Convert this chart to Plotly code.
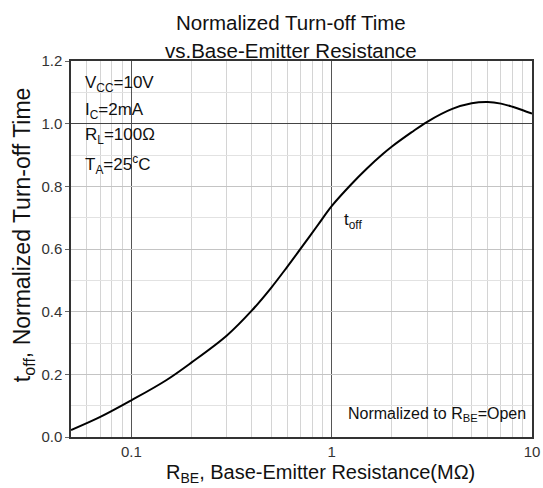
import plotly.graph_objects as go
import math

# Data
r_be = [0.05, 0.07, 0.1, 0.15, 0.2, 0.3, 0.4, 0.5, 0.6, 0.7, 0.85, 1.0,
        1.25, 1.5, 1.8, 2.0, 2.5, 3.0, 4.0, 5.0, 6.0, 7.0, 8.0, 9.0, 10.0]
t_off = [0.022, 0.064, 0.117, 0.182, 0.238, 0.324, 0.404, 0.477, 0.543, 0.601, 0.675, 0.737,
         0.806, 0.857, 0.903, 0.927, 0.972, 1.006, 1.047, 1.065, 1.069, 1.064, 1.054, 1.043, 1.032]

x_major = [0.1, 1, 10]
x_major_labels = ["0.1", "1", "10"]
x_minor = [0.06, 0.07, 0.08, 0.09, 0.2, 0.3, 0.4, 0.5, 0.6, 0.7, 0.8, 0.9,
           2, 3, 4, 5, 6, 7, 8, 9]
y_major = [0.0, 0.2, 0.4, 0.6, 0.8, 1.0, 1.2]
y_major_labels = ["0.0", "0.2", "0.4", "0.6", "0.8", "1.0", "1.2"]
y_minor = [0.1, 0.3, 0.5, 0.7, 0.9, 1.1]

FONT = "Liberation Sans, Arial, sans-serif"

fig = go.Figure()
fig.add_trace(go.Scatter(x=r_be, y=t_off, mode="lines",
                         line=dict(color="black", width=2, shape="spline", smoothing=1.0),
                         showlegend=False, hoverinfo="skip"))
fig.add_trace(go.Scatter(x=[r_be[0]], y=[t_off[0]], yaxis="y2", mode="markers",
                         marker=dict(opacity=0), showlegend=False, hoverinfo="skip"))

xr = [math.log10(0.05), math.log10(10)]
fig.update_layout(
    width=543, height=488,
    margin=dict(l=71, r=11, t=61, b=51, autoexpand=False),
    paper_bgcolor="white", plot_bgcolor="white",
    font=dict(family=FONT, color="#222"),
    xaxis=dict(type="log", range=xr, tickmode="array", tickvals=x_major, ticktext=x_major_labels,
               showgrid=True, gridcolor="#555", gridwidth=1, automargin=False,
               showline=True, linecolor="#333", linewidth=1.5, mirror=True,
               ticks="", tickfont=dict(size=15, color="#333"),
               minor=dict(tickmode="array", tickvals=x_minor, showgrid=True, gridcolor="#d4d4d4", gridwidth=1, ticks=""),
               zeroline=False),
    yaxis=dict(range=[0, 1.2], tickmode="array", tickvals=y_major, ticktext=y_major_labels,
               showgrid=True, gridcolor="#c4c4c4", gridwidth=1, automargin=False,
               showline=True, linecolor="#333", linewidth=1.5, mirror=True,
               ticks="outside", ticklen=4, tickcolor="#666", tickfont=dict(size=15, color="#333"),
               minor=dict(tickmode="array", tickvals=y_minor, showgrid=True, gridcolor="#e2e2e2", gridwidth=1, ticks=""),
               zeroline=False),
    yaxis2=dict(overlaying="y", range=[0, 1.2], tickmode="array", tickvals=[1.0],
                showgrid=True, gridcolor="#444", gridwidth=1, showticklabels=False,
                ticks="", zeroline=False, showline=False, automargin=False),
)

title_font = dict(size=20.5, color="#111", family=FONT)
fig.add_annotation(text="Normalized Turn-off Time", xref="paper", yref="paper", x=0.477, y=1.102,
                   xanchor="center", yanchor="middle", showarrow=False, font=title_font)
fig.add_annotation(text="vs.Base-Emitter Resistance", xref="paper", yref="paper", x=0.477, y=1.029,
                   xanchor="center", yanchor="middle", showarrow=False, font=title_font)
fig.add_annotation(text="R<sub>BE</sub>, Base-Emitter Resistance(MΩ)", xref="paper", yref="paper",
                   x=0.542, y=-0.098, xanchor="center", yanchor="middle", showarrow=False,
                   font=dict(size=20, color="#111", family=FONT))
fig.add_annotation(text="t<sub>off</sub>, Normalized Turn-off Time", xref="paper", yref="paper",
                   x=-0.104, y=0.537, xanchor="center", yanchor="middle", textangle=-90, showarrow=False,
                   font=dict(size=23, color="#111", family=FONT))

ann_font = dict(size=17, color="#111", family=FONT)
conds = ["V<sub>CC</sub>=10V", "I<sub>C</sub>=2mA", "R<sub>L</sub>=100Ω", "T<sub>A</sub>=25<sup>c</sup>C"]
cond_y = [0.939, 0.867, 0.801, 0.724]
for txt, yy in zip(conds, cond_y):
    fig.add_annotation(text=txt, xref="paper", yref="paper", x=0.025, y=yy,
                       xanchor="left", yanchor="middle", showarrow=False, font=ann_font)
fig.add_annotation(text="t<sub>off</sub>", xref="paper", yref="paper", x=0.588, y=0.574,
                   xanchor="left", yanchor="middle", showarrow=False, font=ann_font)
fig.add_annotation(text="Normalized to R<sub>BE</sub>=Open", xref="paper", yref="paper", x=0.991, y=0.059,
                   xanchor="right", yanchor="middle", showarrow=False, font=dict(size=16, color="#111", family=FONT))

fig.write_html("out.html", config={"displayModeBar": False},
               post_script="document.body.style.margin='0';document.body.style.overflow='hidden';")
